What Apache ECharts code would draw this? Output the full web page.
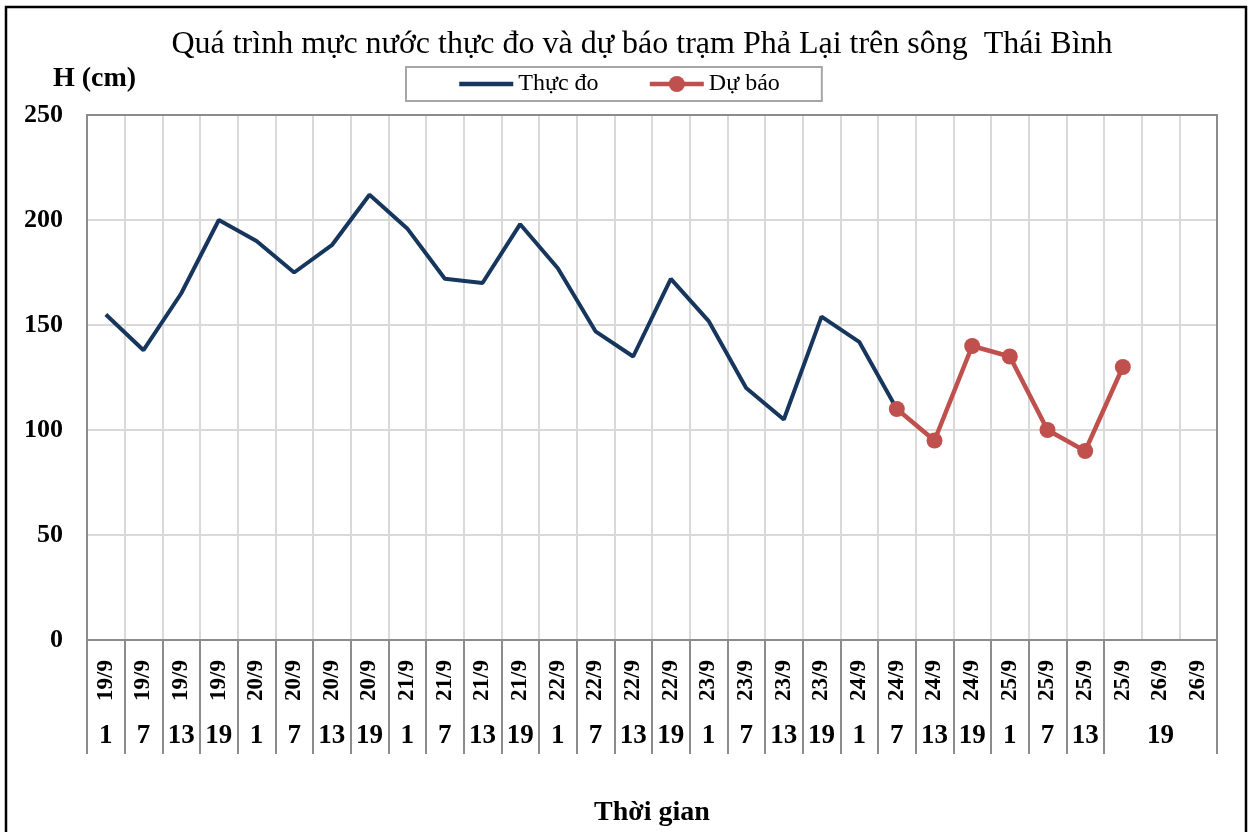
<!DOCTYPE html>
<html>
<head>
<meta charset="utf-8">
<script src="https://cdn.jsdelivr.net/npm/echarts@6/dist/echarts.min.js"></script>
<style>
html,body{margin:0;padding:0;background:#fff;}
#chart{width:1251px;height:832px;}
</style>
</head>
<body>
<div id="chart"></div>
<script>
// ---- data ----
const dates = ['19/9','19/9','19/9','19/9','20/9','20/9','20/9','20/9','21/9','21/9','21/9','21/9',
  '22/9','22/9','22/9','22/9','23/9','23/9','23/9','23/9','24/9','24/9','24/9','24/9',
  '25/9','25/9','25/9','25/9','26/9','26/9'];
// hour row (the last "19" cell is merged across the final three columns)
const hours = ['1','7','13','19','1','7','13','19','1','7','13','19',
  '1','7','13','19','1','7','13','19','1','7','13','19',
  '1','7','13','','19',''];
const observed = [155,138,165,200,190,175,188,212,196,172,170,198,177,147,135,172,152,120,105,154,142,110,
  null,null,null,null,null,null,null,null];
const forecast = [null,null,null,null,null,null,null,null,null,null,null,null,null,null,null,null,null,null,null,null,null,
  110,95,140,135,100,90,130,null,null];
const yTicks = {min:0, max:250, interval:50};

const FONT = "'Liberation Serif','Times New Roman',serif";
const chart = echarts.init(document.getElementById('chart'), null, {renderer:'canvas'});
chart.setOption({
  animation:false,
  backgroundColor:'#fff',
  textStyle:{fontFamily:FONT},
  graphic:[{type:'rect', shape:{x:6,y:7,width:1240,height:900}, style:{fill:'none',stroke:'#000',lineWidth:2.5}, silent:true, z:100}],
  title:{text:'Quá trình mực nước thực đo và dự báo trạm Phả Lại trên sông  Thái Bình',
    left:637, textAlign:'center', top:24,
    textStyle:{fontFamily:FONT,fontSize:32,fontWeight:'normal',color:'#000'}},
  legend:{left:406, top:67, padding:[5,42,5,51], itemGap:49, itemWidth:54, itemHeight:20,
    borderColor:'#a6a6a6', borderWidth:2,
    lineStyle:{width:4.5},
    textStyle:{fontFamily:FONT,fontSize:24,color:'#000'},
    data:[{name:'Thực đo', itemStyle:{opacity:0}}, {name:'Dự báo'}]},
  grid:{left:87, right:34, top:115, height:528, show:true, z:1, backgroundColor:'transparent',
    borderColor:'#8c8c8c', borderWidth:2},
  xAxis:[{
    type:'category', data:dates, boundaryGap:true, position:'bottom',
    axisLine:{show:true,lineStyle:{color:'#8c8c8c',width:2}},
    axisTick:{show:true, length:114, interval:function(i){return i<=27;}, lineStyle:{color:'#8c8c8c',width:2}},
    splitLine:{show:true, interval:0, lineStyle:{color:'#d9d9d9',width:2}},
    axisLabel:{interval:0, rotate:90, margin:20, fontFamily:FONT, fontSize:23, fontWeight:'bold', color:'#000'}
  },{
    type:'category', data:hours, boundaryGap:true, position:'bottom', offset:114,
    axisLine:{show:false}, axisTick:{show:false}, splitLine:{show:false},
    axisLabel:{interval:0, margin:-18, verticalAlign:'middle', fontFamily:FONT, fontSize:27, fontWeight:'bold', color:'#000'},
    name:'Thời gian', nameLocation:'middle', nameGap:45,
    nameTextStyle:{fontFamily:FONT,fontSize:28,fontWeight:'bold',color:'#000'}
  }],
  yAxis:{type:'value', min:yTicks.min, max:yTicks.max, interval:yTicks.interval,
    axisLine:{show:false}, axisTick:{show:false},
    splitLine:{show:true,lineStyle:{color:'#d9d9d9',width:2}},
    axisLabel:{margin:24, fontFamily:FONT, fontSize:26, fontWeight:'bold', color:'#000'},
    name:'H (cm)', nameLocation:'end', nameGap:22,
    nameTextStyle:{fontFamily:FONT,fontSize:28,fontWeight:'bold',color:'#000',padding:[0,0,0,15]}
  },
  series:[{
    name:'Thực đo', type:'line', data:observed, symbol:'none', connectNulls:false,
    lineStyle:{color:'#17365D',width:4}, itemStyle:{color:'#17365D'}, z:3
  },{
    name:'Dự báo', type:'line', data:forecast, symbol:'circle', symbolSize:16, showSymbol:true,
    lineStyle:{color:'#C0504D',width:4.5}, itemStyle:{color:'#C0504D'}, z:4
  }]
});
</script>
</body>
</html>
